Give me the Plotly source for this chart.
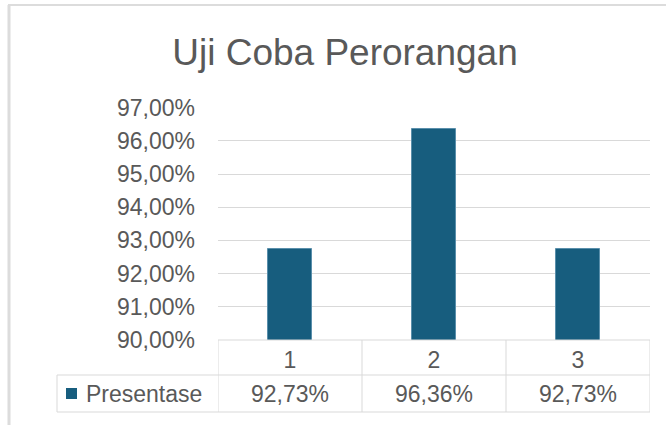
import plotly.graph_objects as go

# ---- data ----
categories = [1, 2, 3]
category_labels = ["1", "2", "3"]
series_name = "Presentase"
values = [92.73, 96.36, 92.73]          # percent
y_ticks = [90, 91, 92, 93, 94, 95, 96, 97]
y_tick_labels = [f"{t:.2f}".replace(".", ",") + "%" for t in y_ticks]
title_text = "Uji Coba Perorangan"

# ---- layout helpers (pixel -> paper) ----
W, H = 666, 425
PL, PR, PT, PB = 218, 650, 107, 340
def fx(px):
    return (px - PL) / (PR - PL)
def fy(py):
    return (PB - py) / (PB - PT)

FONT = "Liberation Sans, Arial, sans-serif"
TXT = "#595959"
GRID = "#d9d9d9"
BAR = "#175d7e"

fig = go.Figure()
fig.add_trace(go.Bar(
    x=categories, y=values, name=series_name,
    width=0.31, base=0,
    marker=dict(color=BAR, line=dict(color="#5a8fab", width=1)),
    showlegend=False,
))

shapes = []
line = dict(color=GRID, width=1)
# table top (axis line)
shapes.append(dict(type="line", xref="paper", yref="paper", x0=0, x1=1, y0=0, y1=0, line=line))
# vertical boundaries of table columns
for b in [0.5, 1.5, 2.5, 3.5]:
    shapes.append(dict(type="line", xref="x", yref="paper", x0=b, x1=b,
                       y0=fy(340), y1=fy(412), line=line))
# horizontal row lines
for py in [375, 412]:
    shapes.append(dict(type="line", xref="paper", yref="paper", x0=fx(57), x1=1,
                       y0=fy(py), y1=fy(py), line=line))
# left border of legend cell
shapes.append(dict(type="line", xref="paper", yref="paper", x0=fx(57), x1=fx(57),
                   y0=fy(375), y1=fy(412), line=line))
# legend key square
shapes.append(dict(type="rect", xref="paper", yref="paper", x0=fx(66), x1=fx(77),
                   y0=fy(399), y1=fy(388), line=dict(width=0), fillcolor=BAR))
# chart frame
shapes.append(dict(type="line", xref="paper", yref="paper", x0=fx(8), x1=fx(666),
                   y0=fy(5), y1=fy(5), line=dict(color="#dcdcdc", width=2)))
shapes.append(dict(type="line", xref="paper", yref="paper", x0=fx(9), x1=fx(9),
                   y0=fy(5), y1=fy(425), line=dict(color="#dcdcdc", width=3)))

annotations = []
annotations.append(dict(xref="paper", yref="paper", x=fx(84), y=fy(394),
                        xanchor="left", yanchor="middle", showarrow=False,
                        text=series_name, font=dict(family=FONT, size=23, color=TXT)))
for c, v in zip(categories, values):
    annotations.append(dict(xref="x", yref="paper", x=c, y=fy(394),
                            xanchor="center", yanchor="middle", showarrow=False,
                            text=f"{v:.2f}".replace(".", ",") + "%",
                            font=dict(family=FONT, size=23, color=TXT)))

fig.update_layout(
    width=W, height=H,
    margin=dict(l=PL, r=W - PR, t=PT, b=H - PB, pad=0),
    paper_bgcolor="white", plot_bgcolor="white",
    separators=",.",
    title=dict(text=title_text, x=345 / W, xanchor="center",
               y=1 - 52 / H, yanchor="middle", yref="container",
               font=dict(family=FONT, size=37, color=TXT)),
    xaxis=dict(range=[0.5, 3.5], tickvals=categories, ticktext=category_labels,
               showgrid=False, zeroline=False, showline=False, ticks="",
               ticklabelstandoff=4,
               tickfont=dict(family=FONT, size=23, color=TXT)),
    yaxis=dict(range=[90, 97.02], tickvals=y_ticks, ticktext=y_tick_labels,
               showgrid=True, gridcolor=GRID, gridwidth=1, zeroline=False,
               showline=False, ticks="", ticklabelstandoff=22,
               tickfont=dict(family=FONT, size=23, color=TXT)),
    shapes=shapes, annotations=annotations,
    bargap=0,
)

fig.write_html("out.html",
               config={"displayModeBar": False},
               post_script="document.body.style.margin='0';document.body.style.overflow='hidden';")
